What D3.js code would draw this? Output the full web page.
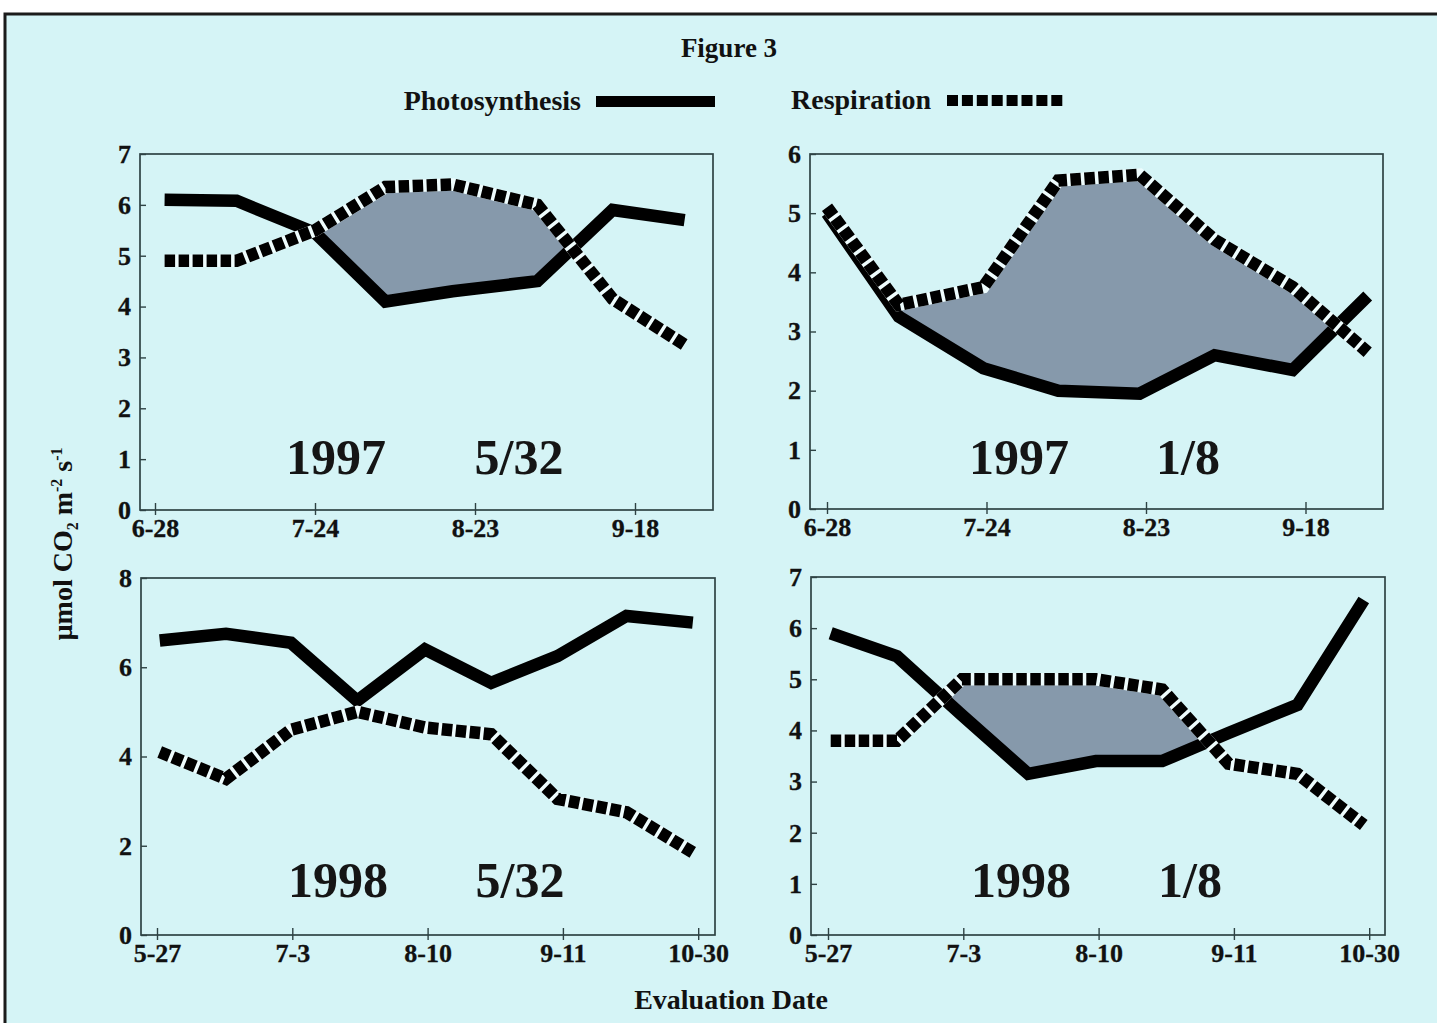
<!DOCTYPE html>
<html><head><meta charset="utf-8">
<script src="https://cdn.jsdelivr.net/npm/d3@7"></script>
<style>body{margin:0;background:#fff}svg{display:block}</style>
</head><body><svg id="c" width="1437" height="1023"></svg>
<script>
// ---------- data ----------
const ticks1997 = ["6-28", "7-24", "8-23", "9-18"];
const ticks1998 = ["5-27", "7-3", "8-10", "9-11", "10-30"];
const yTicks7 = [0, 1, 2, 3, 4, 5, 6, 7];
const yTicks6 = [0, 1, 2, 3, 4, 5, 6];
const yTicks8 = [0, 2, 4, 6, 8];

// sample positions (in tick-label units) and values, µmol CO2 m-2 s-1
const xPos97a   = [0.06, 0.51, 1.0, 1.44, 1.86, 2.39, 2.86, 3.31];
const photo97a  = [6.1, 6.08, 5.45, 4.1, 4.3, 4.5, 5.9, 5.7];
const resp97a   = [4.9, 4.9, 5.5, 6.35, 6.4, 6.0, 4.15, 3.25];

const xPos97b   = [0.0, 0.45, 0.98, 1.45, 1.96, 2.43, 2.92, 3.39];
const photo97b  = [5.0, 3.25, 2.38, 2.0, 1.95, 2.6, 2.35, 3.6];
const resp97b   = [5.1, 3.45, 3.75, 5.55, 5.65, 4.55, 3.75, 2.65];

const xPos98    = [0.02, 0.51, 0.99, 1.48, 1.98, 2.47, 2.96, 3.47, 3.96];
const photo98a  = [6.6, 6.75, 6.55, 5.25, 6.4, 5.65, 6.25, 7.15, 7.0];
const resp98a   = [4.1, 3.5, 4.6, 5.0, 4.65, 4.5, 3.05, 2.75, 1.85];
const photo98b  = [5.9, 5.45, 4.3, 3.15, 3.4, 3.4, 3.95, 4.5, 6.55];
const resp98b   = [3.8, 3.8, 5.0, 5.0, 5.0, 4.8, 3.35, 3.15, 2.15];

const panelYear = ["1997", "1997", "1998", "1998"];
const panelRate = ["5/32", "1/8", "5/32", "1/8"];

// ---------- layout ----------
const FONT = "'Liberation Serif','Times New Roman',serif";
const BG = "#d5f4f6";
const FILL = "#8699ab";
const LW = 12.5;
const DASH = "10.5,3.5";

const svg = d3.select("#c");
svg.append("rect").attr("x", 0).attr("y", 0).attr("width", 1437).attr("height", 1023).attr("fill", "#fff");
svg.append("rect").attr("x", 5).attr("y", 14).attr("width", 1450).attr("height", 1030)
  .attr("fill", BG).attr("stroke", "#1b1b1b").attr("stroke-width", 3);

const panels = [
  {left: 140, top: 154, w: 573, h: 356, ymax: 7, yt: yTicks7, ticks: ticks1997, sp: 160, off: 15,
   xs: xPos97a, photo: photo97a, resp: resp97a, yc: 196, rc: 379, base: 36},
  {left: 810, top: 154, w: 573, h: 355, ymax: 6, yt: yTicks6, ticks: ticks1997, sp: 159.5, off: 17,
   xs: xPos97b, photo: photo97b, resp: resp97b, yc: 209, rc: 378, base: 35},
  {left: 141, top: 578, w: 574, h: 357, ymax: 8, yt: yTicks8, ticks: ticks1998, sp: 135.3, off: 16,
   xs: xPos98, photo: photo98a, resp: resp98a, yc: 197, rc: 379, base: 38},
  {left: 811, top: 577, w: 574, h: 358, ymax: 7, yt: yTicks7, ticks: ticks1998, sp: 135.3, off: 17,
   xs: xPos98, photo: photo98b, resp: resp98b, yc: 210, rc: 379, base: 38}
];

panels.forEach((p, pi) => {
  const x = d3.scaleLinear().domain([0, p.ticks.length - 1])
    .range([p.left + p.off, p.left + p.off + (p.ticks.length - 1) * p.sp]);
  const y = d3.scaleLinear().domain([0, p.ymax]).range([p.top + p.h, p.top]);
  const g = svg.append("g");

  // fill where respiration exceeds photosynthesis
  const pts = [];
  for (let i = 0; i < p.xs.length; i++) {
    const d = p.resp[i] - p.photo[i];
    pts.push({x: p.xs[i], lo: p.photo[i], hi: Math.max(p.resp[i], p.photo[i])});
    if (i < p.xs.length - 1) {
      const d2 = p.resp[i + 1] - p.photo[i + 1];
      if (d * d2 < 0) {
        const t = d / (d - d2);
        const xi = p.xs[i] + t * (p.xs[i + 1] - p.xs[i]);
        const yi = p.photo[i] + t * (p.photo[i + 1] - p.photo[i]);
        pts.push({x: xi, lo: yi, hi: yi});
      }
    }
  }
  const area = d3.area().x(d => x(d.x)).y0(d => y(d.lo)).y1(d => y(d.hi));
  g.append("path").attr("d", area(pts)).attr("fill", FILL);

  // frame
  g.append("rect").attr("x", p.left).attr("y", p.top).attr("width", p.w).attr("height", p.h)
    .attr("fill", "none").attr("stroke", "#2e4244").attr("stroke-width", 1.7);

  // axes
  const ax = d3.axisBottom(x).tickValues(d3.range(p.ticks.length)).tickFormat(i => p.ticks[i])
    .tickSize(5).tickPadding(4);
  const gx = g.append("g").attr("transform", `translate(0,${p.top + p.h})`).call(ax);
  gx.select(".domain").remove();
  gx.selectAll(".tick line").attr("y1", -7).attr("y2", 5).attr("stroke", "#2e4244").attr("stroke-width", 1.4);
  gx.selectAll("text").attr("font-family", FONT).attr("font-weight", "bold").attr("font-size", 26)
    .attr("fill", "#111").attr("stroke", "#111").attr("stroke-width", 0.3);

  const ay = d3.axisLeft(y).tickValues(p.yt).tickFormat(d3.format("d")).tickSizeInner(-6).tickSizeOuter(0).tickPadding(9);
  const gy = g.append("g").attr("transform", `translate(${p.left},0)`).call(ay);
  gy.select(".domain").remove();
  gy.selectAll(".tick line").attr("stroke", "#2e4244").attr("stroke-width", 1.4);
  gy.selectAll("text").attr("font-family", FONT).attr("font-weight", "bold").attr("font-size", 26)
    .attr("fill", "#111").attr("stroke", "#111").attr("stroke-width", 0.3);

  // lines
  const line = d3.line().x((d, i) => x(p.xs[i])).y(d => y(d));
  g.append("path").attr("d", line(p.photo)).attr("fill", "none").attr("stroke", "#000")
    .attr("stroke-width", LW).attr("stroke-linejoin", "miter").attr("stroke-miterlimit", 3);
  g.append("path").attr("d", line(p.resp)).attr("fill", "none").attr("stroke", "#eefcfd")
    .attr("stroke-width", LW);
  g.append("path").attr("d", line(p.resp)).attr("fill", "none").attr("stroke", "#000")
    .attr("stroke-width", LW).attr("stroke-dasharray", DASH);

  // labels
  [[p.yc, panelYear[pi]], [p.rc, panelRate[pi]]].forEach(([cx, t]) => {
    g.append("text").attr("x", p.left + cx).attr("y", p.top + p.h - p.base).attr("text-anchor", "middle")
      .style("font-family", FONT).style("font-weight", "bold").style("font-size", "50px")
      .attr("fill", "#151515").text(t);
  });
});

// title
svg.append("text").attr("x", 729).attr("y", 57).attr("text-anchor", "middle")
  .attr("font-family", FONT).attr("font-weight", "bold").attr("font-size", 27).attr("fill", "#111").text("Figure 3");

// legend
svg.append("text").attr("x", 581).attr("y", 110).attr("text-anchor", "end")
  .attr("font-family", FONT).attr("font-weight", "bold").attr("font-size", 28).attr("fill", "#111").text("Photosynthesis");
svg.append("line").attr("x1", 596).attr("x2", 715).attr("y1", 101.5).attr("y2", 101.5)
  .attr("stroke", "#000").attr("stroke-width", 11);
svg.append("text").attr("x", 931).attr("y", 109).attr("text-anchor", "end")
  .attr("font-family", FONT).attr("font-weight", "bold").attr("font-size", 28).attr("fill", "#111").text("Respiration");
svg.append("line").attr("x1", 947).attr("x2", 1066).attr("y1", 100.5).attr("y2", 100.5)
  .attr("stroke", "#000").attr("stroke-width", 11).attr("stroke-dasharray", "11,3.9");

// axis titles
const yt = svg.append("text").attr("transform", "translate(72,544) rotate(-90)").attr("text-anchor", "middle")
  .attr("font-family", FONT).attr("font-weight", "bold").attr("font-size", 28).attr("fill", "#111");
yt.append("tspan").text("µmol CO");
yt.append("tspan").attr("font-size", 16).attr("dy", 6).text("2");
yt.append("tspan").attr("dy", -6).text(" m");
yt.append("tspan").attr("font-size", 16).attr("dy", -10).text("-2");
yt.append("tspan").attr("dy", 10).text(" s");
yt.append("tspan").attr("font-size", 16).attr("dy", -10).text("-1");

svg.append("text").attr("x", 731).attr("y", 1009).attr("text-anchor", "middle")
  .attr("font-family", FONT).attr("font-weight", "bold").attr("font-size", 28).attr("fill", "#111").text("Evaluation Date");
</script></body></html>
